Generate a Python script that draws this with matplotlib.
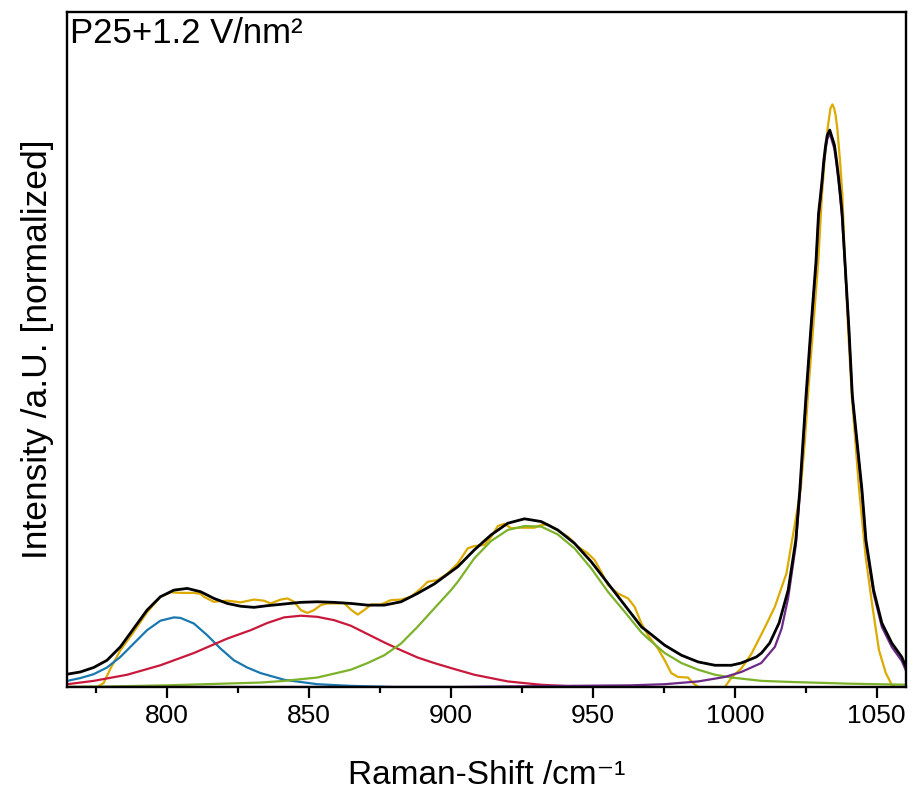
import numpy as np
import matplotlib
matplotlib.use("Agg")
from matplotlib import pyplot as plt
from matplotlib.ticker import MultipleLocator

plt.rcParams['font.family'] = ['Liberation Sans', 'DejaVu Sans']

# measured spectrum (yellow)
data_x = [765, 775.3, 777.6, 780, 783.5, 788.2, 792.9, 797.6, 801.2, 804.7, 807.1, 809.4,
          811.8, 812.9, 816.4, 821.2, 825.9, 830.6, 834.1, 836.5, 840.0, 842.4, 844.7, 847.1,
          849.4, 851.7, 854.1, 856.5, 860.0, 862.3, 864.7, 867.1, 869.4, 871.8, 875.3, 878.8,
          882.4, 885.9, 889.4, 891.8, 895.3, 898.8, 902.4, 905.9, 908.2, 911.8, 914.1, 916.5,
          918.8, 921.2, 924.7, 929.4, 931.8, 934.1, 937.6, 941.2, 944.7, 948.2, 950.6, 952.9,
          955.3, 958.8, 962.4, 964.7, 967.1, 969.4, 972.9, 975.3, 977.6, 980.0, 983.5, 985.3,
          987.1, 996.5, 999, 1002.4, 1005.9, 1010.6, 1014.1, 1018.2, 1020.2, 1023.2, 1024.7,
          1025.9, 1027.6, 1029.4, 1030.7, 1031.6, 1032.7, 1033.7, 1034.4, 1035.0, 1035.5,
          1036.1, 1036.6, 1037.1, 1037.9, 1038.8, 1039.9, 1041.2, 1043.8, 1046.1, 1048.5,
          1050.8, 1053.2, 1055.3, 1056.5, 1061]
data_y = [0.0, 0.0, 0.007, 0.033, 0.066, 0.099, 0.134, 0.162, 0.170, 0.169, 0.169, 0.169,
          0.167, 0.162, 0.153, 0.155, 0.152, 0.157, 0.155, 0.150, 0.157, 0.159, 0.153, 0.138,
          0.133, 0.138, 0.147, 0.150, 0.150, 0.151, 0.139, 0.130, 0.138, 0.148, 0.148, 0.156,
          0.157, 0.162, 0.177, 0.189, 0.192, 0.204, 0.222, 0.249, 0.253, 0.255, 0.269, 0.289,
          0.293, 0.285, 0.286, 0.286, 0.291, 0.292, 0.281, 0.270, 0.252, 0.240, 0.228, 0.207,
          0.183, 0.168, 0.159, 0.144, 0.114, 0.093, 0.069, 0.048, 0.025, 0.018, 0.017, 0.007,
          0.0, 0.0, 0.018, 0.034, 0.060, 0.107, 0.144, 0.204, 0.264, 0.354, 0.443,
          0.533, 0.644, 0.764, 0.883, 0.943, 1.003, 1.039, 1.046, 1.039, 1.027,
          1.003, 0.973, 0.943, 0.883, 0.764, 0.644, 0.524, 0.354, 0.234, 0.144,
          0.066, 0.025, 0.004, 0.0, 0.0]

# cumulative fit (black)
fit_x = [764.8, 769.4, 774.1, 778.8, 783.5, 788.2, 792.9, 797.6, 802.4, 807.1, 811.8, 816.5,
         821.2, 825.9, 830.6, 835.3, 841.2, 847.0, 852.9, 858.8, 864.7, 870.6, 876.5, 882.4,
         888.2, 894.1, 902.4, 908.2, 914.1, 920.0, 925.9, 931.8, 937.6, 943.5, 949.4, 955.3,
         961.2, 967.1, 969.4, 975.3, 981.2, 987.1, 993.0, 998.8, 1002.2, 1004.7, 1007.6,
         1009.4, 1012.3, 1015.6, 1018.8, 1021.5, 1022.9, 1025.1, 1026.8, 1028.6, 1029.5,
         1030.2, 1030.8, 1031.3, 1032.0, 1032.6, 1033.45, 1034.0, 1035.1, 1035.9, 1036.6,
         1037.2, 1037.8, 1038.8, 1040.2, 1041.4, 1044.8, 1046.2, 1048.9, 1051.8, 1055.3,
         1058.8, 1060.5]
fit_y = [0.023, 0.027, 0.035, 0.048, 0.072, 0.105, 0.138, 0.162, 0.174, 0.177, 0.171, 0.159,
         0.150, 0.145, 0.143, 0.146, 0.149, 0.152, 0.153, 0.152, 0.150, 0.147, 0.147, 0.153,
         0.168, 0.185, 0.216, 0.246, 0.273, 0.294, 0.302, 0.297, 0.282, 0.258, 0.225, 0.186,
         0.147, 0.108, 0.099, 0.075, 0.057, 0.045, 0.039, 0.039, 0.043, 0.048, 0.054,
         0.061, 0.079, 0.115, 0.174, 0.264, 0.354, 0.524, 0.644, 0.764, 0.850,
         0.883, 0.913, 0.943, 0.973, 0.991, 1.0, 0.991, 0.973, 0.943, 0.913,
         0.883, 0.850, 0.764, 0.644, 0.524, 0.354, 0.264, 0.174, 0.115, 0.079,
         0.054, 0.034]

# fitted components
blue_x = [764.8, 769.4, 774.1, 778.8, 783.5, 788.2, 792.9, 797.6, 802.4, 804.7, 809.4, 814.1,
          818.8, 823.5, 828.2, 832.9, 841.2, 852.9, 864.7, 880, 900]
blue_y = [0.011, 0.016, 0.023, 0.035, 0.054, 0.078, 0.102, 0.119, 0.125, 0.124, 0.114, 0.093,
          0.069, 0.048, 0.035, 0.025, 0.013, 0.005, 0.002, 0.0, 0.0]

red_x = [764.8, 774.1, 785.9, 797.6, 809.4, 821.2, 829.4, 835.3, 841.2, 847.1, 852.9, 858.8,
         864.7, 870.6, 876.5, 882.4, 888.2, 894.1, 900.0, 908.2, 920.0, 931.8, 943.5, 960]
red_y = [0.005, 0.011, 0.022, 0.039, 0.061, 0.087, 0.102, 0.115, 0.125, 0.128, 0.126, 0.120,
         0.110, 0.095, 0.080, 0.066, 0.053, 0.043, 0.034, 0.022, 0.010, 0.004, 0.001, 0.0]

green_x = [765, 780, 800, 833, 841.2, 852.9, 864.7, 870.6, 876.5, 882.4, 888.2, 894.1, 900.0,
           902.4, 908.2, 914.1, 920.0, 925.9, 931.8, 937.6, 943.5, 949.4, 955.3, 961.2, 967.1,
           969.4, 975.3, 981.2, 987.1, 993.0, 998.8, 1009.4, 1020, 1040, 1061]
green_y = [0.0, 0.001, 0.003, 0.008, 0.011, 0.017, 0.031, 0.043, 0.057, 0.078, 0.108, 0.141,
           0.174, 0.189, 0.231, 0.262, 0.282, 0.289, 0.288, 0.274, 0.249, 0.213, 0.171, 0.135,
           0.098, 0.087, 0.061, 0.043, 0.031, 0.022, 0.017, 0.011, 0.009, 0.006, 0.004]

purple_x = [765, 900, 940, 963.5, 975.3, 987.1, 996.5, 1002.3, 1009.3, 1014.1, 1016.5, 1018.8,
            1021.5, 1022.9, 1025.1, 1026.8, 1028.6, 1029.5, 1030.2, 1030.8, 1031.3, 1032.0,
            1032.6, 1033.45, 1034.0, 1035.1, 1035.9, 1036.6, 1037.2, 1037.8, 1038.8, 1040.2,
            1041.4, 1044.8, 1046.2, 1048.9, 1051.8, 1055.3, 1058.8, 1060.5]
purple_y = [0.0, 0.0, 0.002, 0.003, 0.005, 0.010, 0.018, 0.027, 0.043, 0.072, 0.105, 0.160,
            0.255, 0.345, 0.515, 0.636, 0.757, 0.843, 0.876, 0.906, 0.936, 0.966,
            0.984, 0.994, 0.985, 0.966, 0.936, 0.906, 0.876, 0.843, 0.759, 0.638,
            0.519, 0.348, 0.258, 0.168, 0.108, 0.072, 0.047, 0.027]

fig = plt.figure(figsize=(9.14, 7.98), dpi=100)
ax = fig.add_axes([0.0733, 0.1391, 0.9179, 0.8459])

kw = dict(lw=1.6, solid_joinstyle='round', solid_capstyle='round')
ax.plot(data_x, data_y, color='#dcaa00', **kw)
ax.plot(blue_x, blue_y, color='#1a78b0', **kw)
ax.plot(red_x, red_y, color='#c8193c', **kw)
ax.plot(green_x, green_y, color='#7cb22a', **kw)
ax.plot(purple_x, purple_y, color='#6c2a86', **kw)
ax.plot(fit_x, fit_y, color='black', lw=2.0, solid_joinstyle='round')

ax.set_xlim(764.7, 1060.3)
ax.set_ylim(0, 1.212)
ax.xaxis.set_major_locator(MultipleLocator(50))
ax.xaxis.set_minor_locator(MultipleLocator(25))
ax.tick_params(axis='x', which='major', direction='out', length=8, width=1.6, labelsize=19, pad=4)
ax.tick_params(axis='x', which='minor', direction='out', length=4.5, width=1.6)
ax.set_yticks([])
for s in ax.spines.values():
    s.set_linewidth(1.7)

ax.set_xlabel('Raman-Shift /cm\u207b\u00b9', fontsize=24, labelpad=23)
ax.set_ylabel('Intensity /a.U. [normalized]', fontsize=25.5, labelpad=9)
ax.text(0.004, 0.992, 'P25+1.2 V/nm²', transform=ax.transAxes, fontsize=25,
        ha='left', va='top')

fig.savefig('out.png', dpi=100)
